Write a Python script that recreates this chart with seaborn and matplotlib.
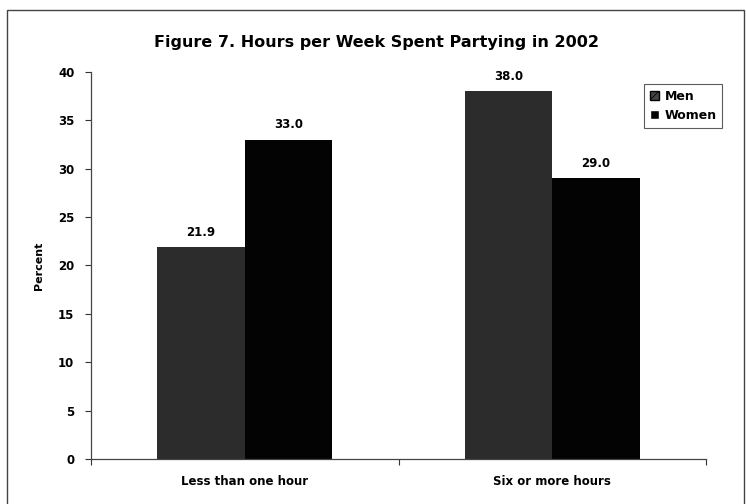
import pandas as pd
import seaborn as sns
import matplotlib.pyplot as plt
from matplotlib.patches import Rectangle

categories = ["Less than one hour", "Six or more hours"]
groups = ["Men", "Women"]
men = [21.9, 38.0]
women = [33.0, 29.0]
yticks = [0, 5, 10, 15, 20, 25, 30, 35, 40]

df = pd.DataFrame({
    "Category": categories * 2,
    "Group": [groups[0]] * 2 + [groups[1]] * 2,
    "Percent": men + women,
})

sns.set_theme(style="white")
plt.rcParams['font.family'] = ['DejaVu Sans']
plt.rcParams['text.color'] = 'black'
plt.rcParams['hatch.color'] = '#dddddd'
plt.rcParams['hatch.linewidth'] = 0.6

fig = plt.figure(figsize=(7.46, 5.04), dpi=100)
ax = fig.add_axes([91 / 746, 1 - 459 / 504, 615 / 746, 387 / 504])

colors = {"Men": "#2c2c2c", "Women": "#030303"}
sns.barplot(data=df, x="Category", y="Percent", hue="Group",
            palette=colors, width=0.57, gap=0, saturation=1,
            linewidth=0, ax=ax, legend=False)

for c in ax.containers:
    ax.bar_label(c, fmt="%.1f", padding=6, fontsize=8.5, fontweight="bold", color="black")

ax.set_ylim(0, 40)
ax.set_yticks(yticks)
ax.set_xlim(-0.5, 1.5)
ax.set_xticks([-0.5, 0.5, 1.5])
ax.set_xticklabels([])
# category names sit between the boundary ticks
for i, lab in enumerate(categories):
    ax.annotate(lab, xy=(i, 0), xycoords=("data", "axes fraction"),
                xytext=(0, -16.5), textcoords="offset points",
                ha="center", va="center", fontsize=8.5, fontweight="bold", color="black")
ax.tick_params(axis="x", length=4, width=0.8, direction="out", bottom=True, color="#333333")
ax.tick_params(axis="y", length=4, width=0.8, direction="out", left=True,
               labelsize=8.5, color="#333333", pad=8, labelcolor="black")
for t in ax.get_yticklabels():
    t.set_fontweight("bold")
ax.set_xlabel("")
ax.set_ylabel("Percent", fontsize=8, fontweight="bold", labelpad=10, color="black")
for s in ["top", "right"]:
    ax.spines[s].set_visible(False)
for s in ["left", "bottom"]:
    ax.spines[s].set_color("#444444")
    ax.spines[s].set_linewidth(0.9)

fig.text(376 / 746, 1 - 42 / 504, "Figure 7. Hours per Week Spent Partying in 2002",
         ha="center", va="center", fontsize=11.5, fontweight="bold")

handles = [Rectangle((0, 0), 1, 1, facecolor="#444444", edgecolor="black", hatch="xx"),
           Rectangle((0, 0), 1, 1, facecolor="#050505")]
leg = fig.legend(handles, groups, loc="upper left", bbox_to_anchor=(644 / 746, 1 - 84 / 504),
                 frameon=True, fancybox=False, edgecolor="#333333",
                 handlelength=0.75, handleheight=0.75, handletextpad=0.45, borderpad=0.45,
                 labelspacing=0.5, borderaxespad=0, prop={"weight": "bold", "size": 9})
leg.get_frame().set_linewidth(0.8)

fig.patches.append(Rectangle((7 / 746, -0.05), 737 / 746, 1.05 - 10 / 504, transform=fig.transFigure,
                             fill=False, edgecolor="#444444", linewidth=1.0))

fig.savefig("out.png", dpi=100)
